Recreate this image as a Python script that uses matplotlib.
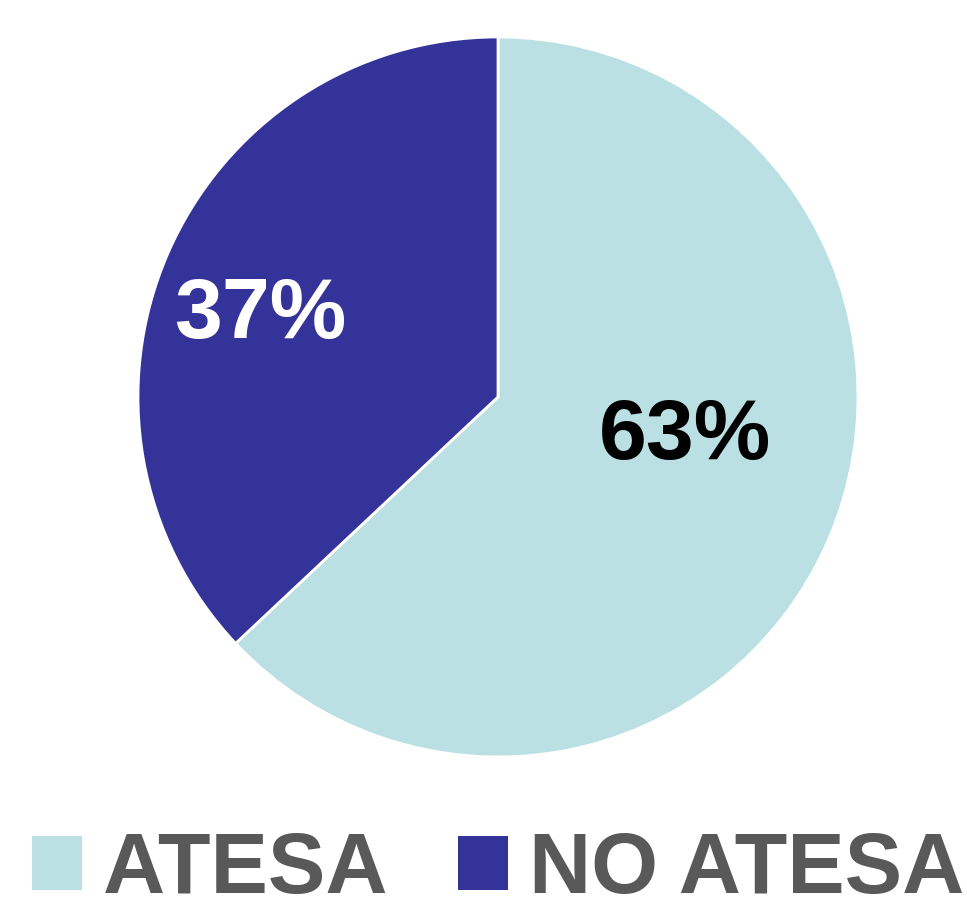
import matplotlib
matplotlib.use('Agg')
import matplotlib.pyplot as plt

labels = ['ATESA', 'NO ATESA']
values = [63, 37]
colors = ['#BAE0E3', '#343399']
pct_colors = ['black', 'white']

fig = plt.figure(figsize=(9.67, 8.99), dpi=100)
ax = fig.add_axes([0.1427, 0.158, 0.7446, 0.8009])

wedges, texts, autotexts = ax.pie(
    values, colors=colors, startangle=90, counterclock=False,
    autopct='%d%%', pctdistance=0.55,
    wedgeprops=dict(edgecolor='white', linewidth=2),
    textprops=dict(fontsize=62, fontweight='bold', family='Liberation Sans'))
for t, c in zip(autotexts, pct_colors):
    t.set_color(c)
autotexts[0].set_position((0.52, -0.11))
autotexts[1].set_position((-0.66, 0.226))
ax.set_xlim(-1, 1)
ax.set_ylim(-1, 1)

leg = fig.legend(wedges, labels, loc='lower center', bbox_to_anchor=(0.515, -0.1),
                 ncol=2, frameon=False,
                 prop=dict(family='Liberation Sans', weight='bold', size=62),
                 handlelength=0.58, handleheight=0.58, handletextpad=0.25,
                 columnspacing=0.8)
for t in leg.get_texts():
    t.set_color('#595959')
for h in leg.legend_handles:
    h.set_edgecolor('none')

fig.savefig('out.png', dpi=100)
